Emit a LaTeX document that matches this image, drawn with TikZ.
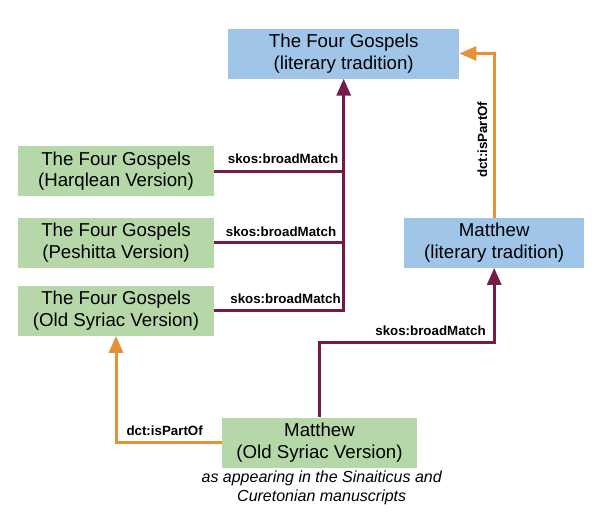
\documentclass[tikz,border=0pt]{standalone}
\usepackage{fontspec}
\setmainfont{Liberation Sans}
\usetikzlibrary{arrows.meta}
\definecolor{boxblue}{HTML}{9FC5E8}
\definecolor{boxgreen}{HTML}{B6D7A8}
\definecolor{matchred}{HTML}{741B47}
\definecolor{partorange}{HTML}{E69138}

\begin{document}
\begin{tikzpicture}[x=1pt,y=-1pt,
    box/.style={minimum height=50pt,align=center,inner sep=0pt,font=\fontsize{18.67}{21.5}\selectfont},
    litbox/.style={box,fill=boxblue},
    msbox/.style={box,fill=boxgreen},
    broad/.style={matchred,line width=3pt},
    part/.style={partorange,line width=3pt},
    tip/.style={-{Triangle[length=17pt,width=14pt]}},
    rel/.style={font=\fontsize{13.33}{16}\selectfont\bfseries,text=black,inner sep=0pt}]
    \useasboundingbox (0,0) rectangle (602,522);
    \node[litbox,minimum width=231pt] (gospels) at (343.7,53.5) {The Four Gospels\\(literary tradition)};
    \node[msbox,minimum width=196pt] (harqlean) at (116,171.3) {The Four Gospels\\(Harqlean Version)};
    \node[msbox,minimum width=196pt] (peshitta) at (116,242.5) {The Four Gospels\\(Peshitta Version)};
    \node[msbox,minimum width=196pt] (oldsyriac) at (116,310.7) {The Four Gospels\\(Old Syriac Version)};
    \node[litbox,minimum width=180pt] (matthewlit) at (494.2,242.7) {Matthew\\(literary tradition)};
    \node[msbox,minimum width=195pt] (matthewos) at (319.5,442.5) {Matthew\\(Old Syriac Version)};
    \node[font=\fontsize{16}{19}\selectfont\itshape,align=center,inner sep=0pt] (witness) at (321.7,487.5) {as appearing in the Sinaiticus and\\Curetonian manuscripts};
    \draw[broad] (harqlean.east) -- (harqlean.east -| gospels.south) node[rel,anchor=base east,xshift=-4pt,yshift=7.5pt] {skos:broadMatch};
    \draw[broad] (peshitta.east) -- (peshitta.east -| gospels.south) node[rel,anchor=base east,xshift=-6pt,yshift=6.5pt] {skos:broadMatch};
    \draw[broad,tip] (oldsyriac.east) -| (gospels.south) node[rel,pos=0.5,anchor=base east,xshift=-1.5pt,yshift=7.3pt] {skos:broadMatch};
    \draw[broad,tip] (matthewos.north) -- ++(0,-75) -| (matthewlit.south) node[rel,pos=0.5,anchor=base east,xshift=-7pt,yshift=6.6pt] {skos:broadMatch};
    \draw[part,tip] (matthewos.west) -| (oldsyriac.south) node[rel,pos=0.5,anchor=base west,xshift=9pt,yshift=7pt] {dct:isPartOf};
    \draw[part,tip] (matthewlit.north) |- (gospels.east) node[rel,pos=0.237,xshift=-7pt,rotate=90,anchor=base] {dct:isPartOf};
\end{tikzpicture}
\end{document}
